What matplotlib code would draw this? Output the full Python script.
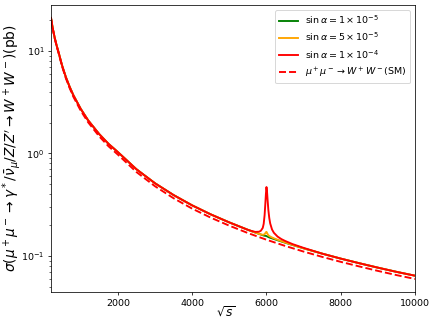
import numpy as np
import matplotlib
matplotlib.use("Agg")
import matplotlib.pyplot as plt

# sqrt(s) grid for the BSM curves (fine near the Z' resonance at 6 TeV)
sqrt_s = [200, 220, 250, 300, 350, 400, 500, 600, 700, 800, 1000, 1200, 1500, 1750,
          2000, 2500, 3000, 3500, 4000, 4500, 5000, 5500, 5600, 5700, 5800, 5850,
          5900, 5925, 5950, 5970, 5985, 6000, 6015, 6030, 6050, 6075, 6100, 6150,
          6200, 6300, 6400, 6500, 6700, 7000, 7500, 8000, 8500, 9000, 9500, 10000]

# cross sections in pb
sigma_1e5 = [21.0, 18.9, 16.4, 13.4, 11.35, 9.8, 7.17, 5.55, 4.48, 3.71, 2.72, 2.10, 1.54, 1.238,
             1.03, 0.700, 0.511, 0.392, 0.311, 0.254, 0.212, 0.1795, 0.174, 0.1688, 0.1638, 0.1614,
             0.1590, 0.1580, 0.1572, 0.1568, 0.1564, 0.1560, 0.1550, 0.1540, 0.1528, 0.1512, 0.1502, 0.1481,
             0.1460, 0.1420, 0.1382, 0.1345, 0.1277, 0.1184, 0.1051, 0.0940, 0.0847, 0.0767, 0.0698, 0.0640]

sigma_5e5 = [21.0, 18.9, 16.4, 13.4, 11.35, 9.8, 7.17, 5.55, 4.48, 3.71, 2.72, 2.10, 1.54, 1.238,
             1.03, 0.700, 0.511, 0.392, 0.311, 0.254, 0.212, 0.1795, 0.174, 0.1688, 0.1638, 0.1619,
             0.1606, 0.1612, 0.1630, 0.1667, 0.1699, 0.1715, 0.1676, 0.1632, 0.1592, 0.1565, 0.1544, 0.1511,
             0.1483, 0.1436, 0.1393, 0.1353, 0.1281, 0.1184, 0.1051, 0.0940, 0.0847, 0.0767, 0.0698, 0.0640]

sigma_1e4 = [21.0, 18.9, 16.4, 13.4, 11.35, 9.8, 7.17, 5.55, 4.48, 3.71, 2.72, 2.10, 1.54, 1.238,
             1.03, 0.700, 0.511, 0.392, 0.311, 0.254, 0.212, 0.1795, 0.1749, 0.1713, 0.1720, 0.1760,
             0.1876, 0.2054, 0.2507, 0.3272, 0.4034, 0.4697, 0.4230, 0.3524, 0.2818, 0.2343, 0.2073, 0.1807,
             0.1679, 0.1541, 0.1458, 0.1399, 0.1303, 0.1196, 0.1051, 0.0940, 0.0847, 0.0767, 0.0698, 0.0640]

# Standard Model mu+ mu- -> W+ W-
sqrt_s_sm = [200, 220, 250, 300, 350, 400, 500, 600, 700, 800, 1000, 1200, 1500, 1750, 2000,
             2500, 3000, 3500, 4000, 4500, 5000, 5500, 6000, 6500, 7000, 7500, 8000, 8500,
             9000, 9500, 10000]
sigma_sm = [20.9, 18.8, 16.24, 13.27, 11.18, 9.65, 7.03, 5.41, 4.35, 3.58, 2.61, 2.01, 1.463, 1.172, 0.973,
            0.658, 0.478, 0.365, 0.289, 0.236, 0.197, 0.167, 0.1437, 0.1251, 0.1101, 0.0977, 0.0874, 0.0788,
            0.0713, 0.0649, 0.0595]

fig, ax = plt.subplots(figsize=(6.4, 4.8))
fig.subplots_adjust(left=0.117, right=0.952, bottom=0.107, top=0.985)

ax.plot(sqrt_s, sigma_1e5, color='green', lw=2, label=r'$\sin\alpha = 1\times10^{-5}$')
ax.plot(sqrt_s, sigma_5e5, color='orange', lw=2, label=r'$\sin\alpha = 5\times10^{-5}$')
ax.plot(sqrt_s, sigma_1e4, color='red', lw=2, label=r'$\sin\alpha = 1\times10^{-4}$')
ax.plot(sqrt_s_sm, sigma_sm, 'r--', lw=2, label=r'$\mu^+\mu^-\rightarrow W^+W^-$(SM)')

ax.set_yscale('log')
ax.set_xlim(200, 10000)
ax.set_xlabel(r'$\sqrt{s}$', fontsize=13)
ax.set_ylabel(r'$\sigma(\mu^+\mu^-\rightarrow\gamma^*/\bar{\nu}_\mu/Z/Z^{\prime}\rightarrow W^+W^-)$(pb)',
              fontsize=14.5)
ax.yaxis.set_label_coords(-0.078, 0.5)
ax.xaxis.set_label_coords(0.48, -0.045)
ax.legend(loc='upper right')

fig.savefig('out.png', dpi=68.125)
